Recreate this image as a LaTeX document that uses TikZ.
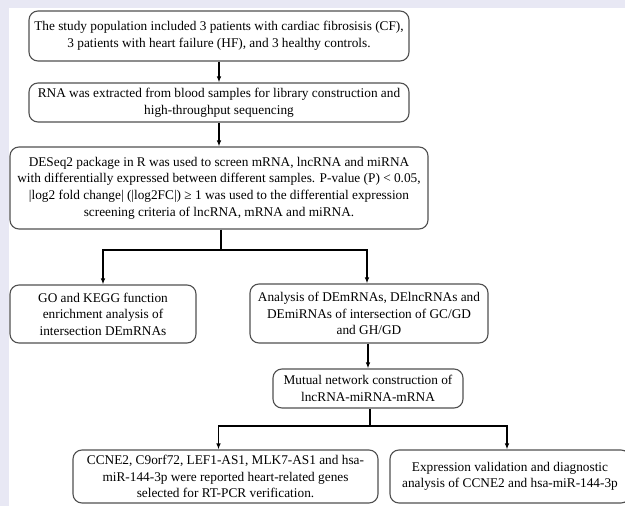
\documentclass[tikz,border=0pt]{standalone}
\usepackage{fontspec}
\setmainfont{Liberation Serif}
\usetikzlibrary{arrows.meta}
\definecolor{bgl}{RGB}{232,232,244}
\definecolor{boxc}{RGB}{80,80,80}
\begin{document}
\begin{tikzpicture}[x=1pt,y=-1pt,
  flowbox/.style={draw=boxc,line width=1.1pt,rounded corners=9pt,align=center,
    inner sep=0pt,font=\fontsize{13.3}{16.6}\selectfont},
  arr/.style={line width=1.1pt,-{Latex[length=6pt,width=4.5pt]}},
  ln/.style={line width=1.1pt}]
\useasboundingbox (0,0) rectangle (625,506);
\fill[bgl] (0,0) rectangle (625,506);
\fill[white] (8.5,8) rectangle (625,506);
\begin{scope}
\clip (0,0) rectangle (625,506);
\node[flowbox,minimum width=380pt,minimum height=50pt] (b1) at (219,36)
  {The study population included 3 patients with cardiac fibrosisis (CF),\\3 patients with heart failure (HF), and 3 healthy controls.};
\node[flowbox,minimum width=380pt,minimum height=39pt] (b2) at (219,102.5)
  {RNA was extracted from blood samples for library construction and\\high-throughput sequencing};
\node[flowbox,minimum width=418pt,minimum height=82pt] (b3) at (219,188)
  {DESeq2 package in R was used to screen mRNA, lncRNA and miRNA\\with differentially expressed between different samples. P-value (P) < 0.05,\\|log2 fold change| (|log2FC|) ≥ 1 was used to the differential expression\\screening criteria of lncRNA, mRNA and miRNA.};
\node[flowbox,minimum width=186pt,minimum height=58pt] (b4) at (103,314)
  {GO and KEGG function\\enrichment analysis of\\intersection DEmRNAs};
\node[flowbox,minimum width=238pt,minimum height=59pt] (b5) at (369,313.5)
  {Analysis of DEmRNAs, DElncRNAs and\\DEmiRNAs of intersection of GC/GD\\and GH/GD};
\node[flowbox,minimum width=190pt,minimum height=39pt] (b6) at (368,388.5)
  {Mutual network construction of\\lncRNA-miRNA-mRNA};
\node[flowbox,minimum width=305pt,minimum height=53pt] (b7) at (225.5,476.5)
  {CCNE2, C9orf72, LEF1-AS1, MLK7-AS1 and hsa-\\miR-144-3p were reported heart-related genes\\selected for RT-PCR verification.};
\node[flowbox,minimum width=240pt,minimum height=53pt] (b8) at (510,476.5)
  {Expression validation and diagnostic\\analysis of CCNE2 and hsa-miR-144-3p};
\end{scope}
\coordinate (j1) at (221,250);
\coordinate (j2) at (370,426);
\draw[arr] (b1) -- (b2);
\draw[arr] (b2) -- (b3);
\draw[ln] (b3.south -| j1) -- (j1);
\draw[arr] (j1) -| (b4.north);
\draw[arr] (j1) -| ([xshift=-2pt]b5.north);
\draw[arr] (b5.south -| b6.north) -- (b6.north);
\draw[ln] (b6.south -| j2) -- (j2);
\draw[arr] (j2) -| ([xshift=-7pt]b7.north);
\draw[arr] (j2) -| ([xshift=-3pt]b8.north);
\end{tikzpicture}
\end{document}
